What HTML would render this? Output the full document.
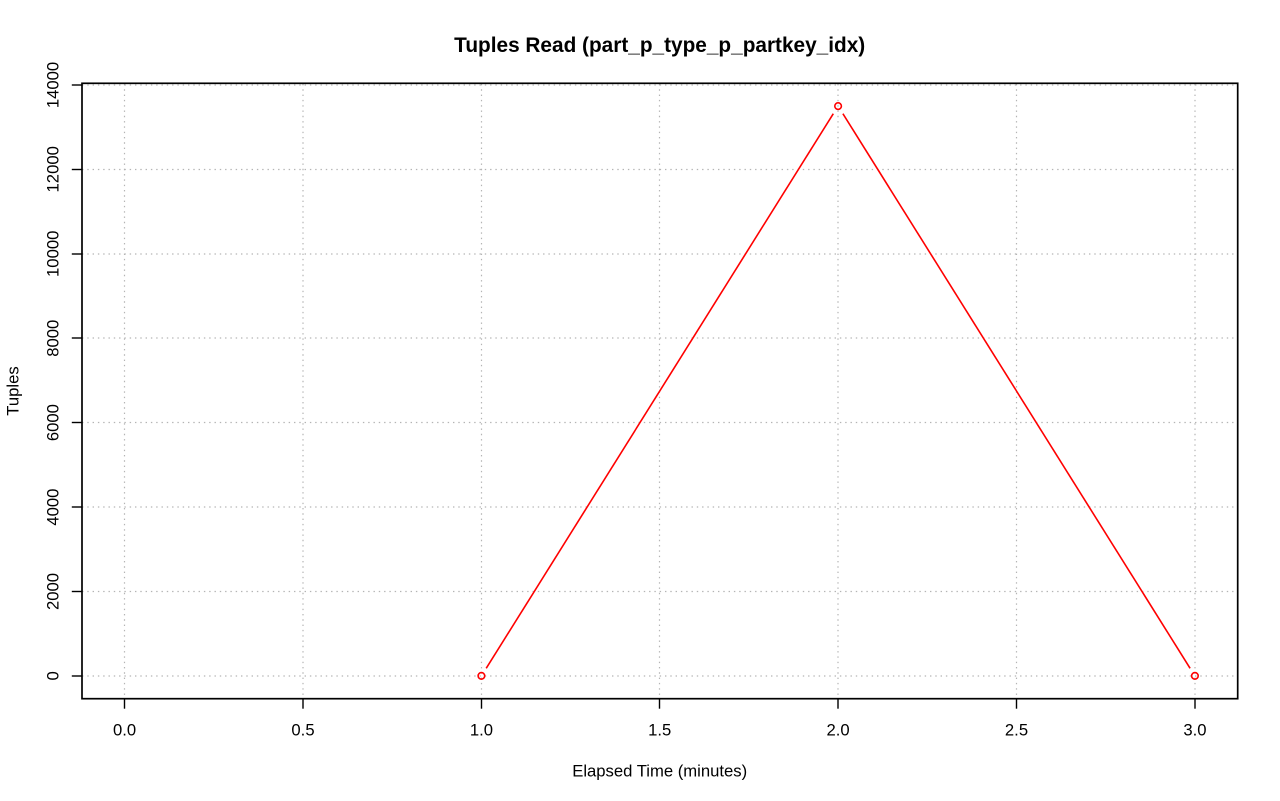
<!DOCTYPE html>
<html>
<head>
<meta charset="utf-8">
<style>
html,body{margin:0;padding:0;background:#fff;}
svg{display:block;}
text{font-family:"Liberation Sans",Arial,Helvetica,sans-serif;fill:#000;}
</style>
</head>
<body>
<svg width="1280" height="801" viewBox="0 0 1280 801" xmlns="http://www.w3.org/2000/svg">
<rect x="0" y="0" width="1280" height="801" fill="#fff"/>
<!-- grid -->
<g stroke="#b4b4b4" stroke-width="1.2" stroke-dasharray="1.4 3.9" fill="none">
<line x1="124.5" y1="84" x2="124.5" y2="698"/>
<line x1="303" y1="84" x2="303" y2="698"/>
<line x1="481.5" y1="84" x2="481.5" y2="698"/>
<line x1="659.5" y1="84" x2="659.5" y2="698"/>
<line x1="838" y1="84" x2="838" y2="698"/>
<line x1="1016.5" y1="84" x2="1016.5" y2="698"/>
<line x1="1195" y1="84" x2="1195" y2="698"/>
<line x1="82" y1="676" x2="1237" y2="676"/>
<line x1="82" y1="591.5" x2="1237" y2="591.5"/>
<line x1="82" y1="507" x2="1237" y2="507"/>
<line x1="82" y1="422.5" x2="1237" y2="422.5"/>
<line x1="82" y1="338" x2="1237" y2="338"/>
<line x1="82" y1="254" x2="1237" y2="254"/>
<line x1="82" y1="169.5" x2="1237" y2="169.5"/>
<line x1="82" y1="85" x2="1237" y2="85"/>
</g>
<!-- series -->
<g stroke="#ff0000" stroke-width="1.6" fill="none">
<line x1="486.2" y1="668.3" x2="833.3" y2="113.7"/>
<line x1="842.9" y1="113.7" x2="1190.1" y2="668.3"/>
<circle cx="481.4" cy="675.9" r="3.3"/>
<circle cx="838.1" cy="106.1" r="3.3"/>
<circle cx="1194.9" cy="675.9" r="3.3"/>
</g>
<!-- box -->
<rect x="82" y="83.3" width="1155.7" height="615.4" fill="none" stroke="#000" stroke-width="1.7"/>
<!-- ticks -->
<g stroke="#000" stroke-width="1.4">
<line x1="124.5" y1="698.7" x2="124.5" y2="708.7"/>
<line x1="303" y1="698.7" x2="303" y2="708.7"/>
<line x1="481.5" y1="698.7" x2="481.5" y2="708.7"/>
<line x1="659.5" y1="698.7" x2="659.5" y2="708.7"/>
<line x1="838" y1="698.7" x2="838" y2="708.7"/>
<line x1="1016.5" y1="698.7" x2="1016.5" y2="708.7"/>
<line x1="1195" y1="698.7" x2="1195" y2="708.7"/>
<line x1="71.8" y1="676" x2="82" y2="676"/>
<line x1="71.8" y1="591.5" x2="82" y2="591.5"/>
<line x1="71.8" y1="507" x2="82" y2="507"/>
<line x1="71.8" y1="422.5" x2="82" y2="422.5"/>
<line x1="71.8" y1="338" x2="82" y2="338"/>
<line x1="71.8" y1="254" x2="82" y2="254"/>
<line x1="71.8" y1="169.5" x2="82" y2="169.5"/>
<line x1="71.8" y1="85" x2="82" y2="85"/>
</g>
<!-- x tick labels -->
<g font-size="16.67" text-anchor="middle">
<text x="124.6" y="735.5">0.0</text>
<text x="303.0" y="735.5">0.5</text>
<text x="481.4" y="735.5">1.0</text>
<text x="659.7" y="735.5">1.5</text>
<text x="838.1" y="735.5">2.0</text>
<text x="1016.5" y="735.5">2.5</text>
<text x="1194.9" y="735.5">3.0</text>
</g>
<!-- y tick labels -->
<g font-size="16.67" text-anchor="middle">
<text transform="translate(58.5,675.9) rotate(-90)">0</text>
<text transform="translate(58.5,591.5) rotate(-90)">2000</text>
<text transform="translate(58.5,507.1) rotate(-90)">4000</text>
<text transform="translate(58.5,422.6) rotate(-90)">6000</text>
<text transform="translate(58.5,338.2) rotate(-90)">8000</text>
<text transform="translate(58.5,253.8) rotate(-90)">10000</text>
<text transform="translate(58.5,169.3) rotate(-90)">12000</text>
<text transform="translate(58.5,85.0) rotate(-90)">14000</text>
</g>
<!-- titles -->
<text x="659.7" y="52" font-size="20.8" font-weight="bold" text-anchor="middle">Tuples Read (part_p_type_p_partkey_idx)</text>
<text x="659.7" y="776.5" font-size="16.67" text-anchor="middle">Elapsed Time (minutes)</text>
<text transform="translate(18.5,391) rotate(-90)" font-size="16.67" text-anchor="middle">Tuples</text>
</svg>
</body>
</html>
